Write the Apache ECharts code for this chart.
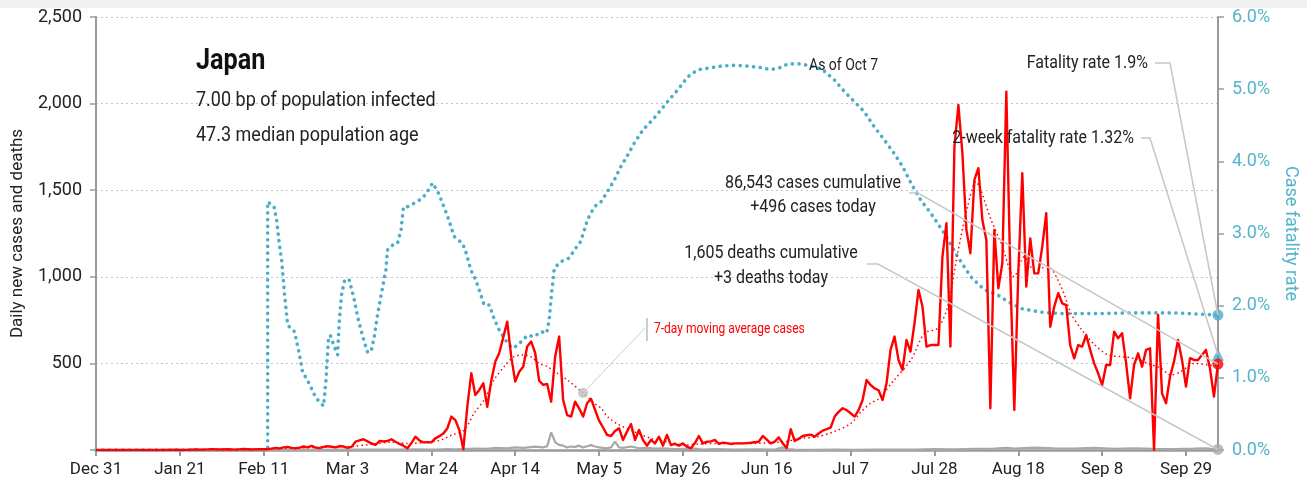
<!DOCTYPE html>
<html>
<head>
<meta charset="utf-8">
<script src="https://cdn.jsdelivr.net/npm/echarts@6.0.0/dist/echarts.min.js"></script>
<style>
  html, body { margin: 0; padding: 0; background: #fff; }
  #chart { width: 1307px; height: 491px; }
</style>
</head>
<body>
<div id="chart"></div>
<script>
// day index 0 = Dec 31, 2019
const lastDay = 281;
const monthNames = ['Jan','Feb','Mar','Apr','May','Jun','Jul','Aug','Sep','Oct','Nov','Dec'];

// [day, new cases]
const dailyCases = [
  [0,0],[5,0],[10,0],[15,1],[17,0],[20,2],[22,1],[25,3],[27,2],[29,5],[31,3],[33,4],[35,2],[37,6],[39,3],[41,5],[43,4],
  [44,8],[45,12],[46,9],[47,15],[48,18],[49,12],[50,10],[51,14],[52,20],[53,15],[54,24],[55,14],[56,11],[57,18],[58,22],
  [59,19],[60,15],[61,23],[62,20],[63,13],[64,18],[65,48],[66,55],[67,62],[68,50],[69,38],[70,29],[71,52],[72,50],[73,52],
  [74,62],[75,48],[76,35],[77,25],[78,10],[79,40],[80,77],[81,55],[82,44],[83,45],[84,44],[85,67],[86,80],[87,95],[88,125],
  [89,193],[90,173],[91,115],[92,4],[93,250],[94,443],[95,318],[96,347],[97,385],[98,250],[99,400],[100,510],[101,560],
  [102,650],[103,741],[104,539],[105,395],[106,452],[107,481],[108,597],[109,626],[110,560],[111,400],[112,376],[113,381],
  [114,279],[115,539],[116,655],[117,289],[118,202],[119,193],[120,279],[121,241],[122,193],[123,270],[124,295],[125,231],
  [126,170],[127,130],[128,87],[129,81],[130,110],[131,125],[132,58],[133,106],[134,150],[135,58],[136,116],[137,58],
  [138,25],[139,58],[140,38],[141,77],[142,25],[143,87],[144,29],[145,35],[146,25],[147,38],[148,19],[149,10],[150,40],
  [151,81],[152,38],[153,48],[154,50],[155,58],[156,35],[157,42],[158,40],[159,35],[160,38],[161,38],[162,38],[163,40],
  [164,42],[165,45],[166,48],[167,81],[168,60],[169,38],[170,48],[171,73],[172,38],[173,12],[174,120],[175,52],[176,65],
  [177,81],[178,85],[179,89],[180,77],[181,95],[182,112],[183,120],[184,129],[185,193],[186,220],[187,241],[188,230],
  [189,212],[190,193],[191,230],[192,289],[193,404],[194,375],[195,356],[196,345],[197,289],[198,385],[199,578],[200,655],
  [201,520],[202,462],[203,635],[204,568],[205,732],[206,924],[207,828],[208,597],[209,606],[210,606],[211,606],[212,1117],
  [213,1309],[214,597],[215,1752],[216,1992],[217,1713],[218,1271],[219,1136],[220,1559],[221,1627],[222,1328],[223,1213],
  [224,241],[225,1271],[226,934],[227,1078],[228,2069],[229,1020],[230,231],[231,1020],[232,1598],[233,943],[234,1222],
  [235,1020],[236,1020],[237,1174],[238,1367],[239,712],[240,828],[241,905],[242,847],[243,837],[244,606],[245,529],
  [246,606],[247,597],[248,664],[249,578],[250,500],[251,443],[252,375],[253,491],[254,491],[255,683],[256,645],[257,674],
  [258,500],[259,298],[260,491],[261,558],[262,481],[263,578],[264,587],[265,0],[266,780],[267,327],[268,270],[269,424],
  [270,510],[271,635],[272,520],[273,366],[274,530],[275,520],[276,520],[277,549],[278,578],[279,472],[280,308],[281,496]
];

// [day, 7-day moving average of cases]
const movingAvg = [
  [0,0],[20,0.5],[30,3],[40,4],[45,8],[50,12],[55,15],[60,18],[64,20],[69.7,35],[74,45],[78,38],[83,45],[86.4,58],[89,85],
  [92.2,115],[94.7,212],[97.2,289],[99.7,404],[102.2,481],[104.7,539],[106.8,549],[108.9,539],[111,500],[113.1,481],
  [115.6,443],[118.1,404],[122,329],[124.8,270],[126.5,241],[128.1,193],[130.6,150],[134.8,106],[139,67],[143.2,48],
  [147.3,29],[151.5,35],[155.7,38],[164,38],[172.4,48],[176.6,67],[180.7,77],[184.9,106],[189.1,154],[191.6,220],
  [194,270],[196,295],[199.9,404],[204.1,520],[207.5,674],[210.8,703],[213.3,828],[215.8,1136],[218.3,1405],[220.4,1550],
  [221.6,1501],[224.2,1328],[226.7,1194],[230,1001],[232.5,1117],[235,1040],[238.3,1059],[241.7,943],[244.2,789],
  [246.7,700],[250,610],[253.4,550],[256.7,539],[260.1,529],[263.4,500],[266.7,472],[269.2,433],[271.7,452],[275.1,500],
  [278.4,491],[281,485]
];

// [day, new deaths]
const dailyDeaths = [
  [0,0],[40,0],[45,1],[50,2],[55,1],[60,3],[65,2],[70,3],[75,2],[80,4],[85,3],[88,5],[90,4],[95,8],[98,6],[100,12],
  [103,10],[105,15],[107,12],[110,20],[112,15],[113,22],[114,102],[115,45],[116,30],[117,25],[118,15],[119,20],[120,18],
  [121,25],[122,15],[123,22],[124,28],[125,20],[126,15],[127,12],[128,10],[129,15],[130,48],[131,15],[132,12],[134,20],
  [136,10],[138,12],[140,8],[142,10],[145,5],[150,8],[152,3],[155,5],[160,3],[165,4],[170,2],[172,15],[173,5],[175,2],
  [180,1],[185,2],[190,1],[195,2],[200,3],[205,2],[210,5],[215,4],[220,6],[225,8],[228,12],[230,8],[235,14],[240,10],
  [245,8],[250,12],[255,6],[260,10],[265,7],[270,5],[275,8],[278,10],[281,3]
];

// [day, case fatality rate %]
const fatalityRate = [
  [0,0],[43,0],[43,3.44],[44.6,3.37],[45.3,3.16],[45.9,2.86],[46.5,2.63],[47.2,2.17],[48,1.73],[49.7,1.64],[50.7,1.39],
  [51.7,1.09],[53.4,0.92],[55.1,0.72],[57,0.61],[57.6,0.97],[58.2,1.52],[58.7,1.59],[59.7,1.43],[60.5,1.32],[60.9,1.76],
  [61.5,2.15],[62.3,2.36],[63.4,2.36],[64.7,2.08],[65.5,1.85],[66.8,1.57],[68,1.36],[68.9,1.36],[69.7,1.57],[70.5,1.87],
  [71.8,2.26],[72.6,2.49],[73,2.77],[74.3,2.84],[75.5,2.86],[76.4,3.05],[77,3.37],[78,3.37],[79.7,3.42],[81.8,3.49],
  [83,3.58],[84.3,3.70],[85.6,3.58],[86.8,3.42],[88.1,3.23],[89.7,2.96],[91.8,2.86],[92.6,2.75],[93.9,2.49],[95.1,2.36],
  [96.4,2.15],[97.2,2.01],[98.5,2.01],[99.7,1.82],[101,1.66],[103.1,1.48],[104.3,1.41],[105.6,1.45],[106.8,1.52],
  [108.1,1.59],[109.8,1.57],[111.4,1.64],[112.9,1.62],[113.5,1.80],[114.1,2.17],[114.8,2.52],[116.4,2.61],[118.5,2.66],
  [119.8,2.77],[121.4,2.89],[123.1,3.19],[124.8,3.37],[126.5,3.44],[128.1,3.58],[129.8,3.74],[131.5,3.93],[133.2,4.09],
  [134.8,4.25],[136.9,4.43],[139.8,4.60],[143.2,4.83],[145.7,4.99],[148.2,5.17],[150.7,5.27],[153.2,5.29],[156.5,5.32],
  [159.9,5.33],[163.2,5.32],[166.5,5.30],[169,5.27],[171.5,5.30],[173.2,5.35],[176.6,5.35],[179.9,5.31],[182,5.27],
  [184.9,5.13],[187.4,4.97],[189.9,4.83],[192.4,4.69],[194.9,4.48],[197.4,4.30],[199.9,4.11],[202,3.93],[204.1,3.70],
  [206.6,3.46],[209.1,3.28],[212.5,3.00],[215.8,2.68],[219.1,2.40],[222.5,2.22],[225.8,2.15],[228.3,2.06],[231.7,1.96],
  [236.7,1.91],[241.7,1.89],[250,1.89],[260,1.90],[270,1.90],[281,1.87]
];

// latest values (end markers)
const latestCfr = 1.87;
const twoWeekCfr = 1.32;
const latestCases = 496;
const latestDeaths = 3;
const maCallout = [122, 329];

const teal = '#4aaec8';
const tealText = '#55b3cc';
const red = '#ff0000';
const grey = '#a8a8a8';
const axisGrey = '#9a9a9a';
const FONT = 'Roboto, "Liberation Sans", sans-serif';

function dayLabel(d) {
  const t = new Date(Date.UTC(2019, 11, 31) + d * 864e5);
  return monthNames[t.getUTCMonth()] + ' ' + t.getUTCDate();
}

const chart = echarts.init(document.getElementById('chart'));

chart.setOption({
  animation: false,
  grid: { left: 96, right: 89, top: 17, bottom: 41 },
  xAxis: {
    type: 'value', min: 0, max: lastDay, interval: 21,
    axisLine: { lineStyle: { color: axisGrey, width: 2.5 } },
    axisTick: { length: 6, lineStyle: { color: axisGrey, width: 2 } },
    axisLabel: { formatter: v => (v % 21 === 0 ? dayLabel(v) : ''), color: '#222', fontSize: 17, fontFamily: FONT, margin: 11, showMaxLabel: false },
    splitLine: { show: false }
  },
  yAxis: [{
    type: 'value', min: 0, max: 2500, interval: 500,
    name: 'Daily new cases and deaths', nameLocation: 'middle', nameGap: 70,
    nameTextStyle: { color: '#222', fontSize: 17, fontFamily: FONT },
    axisLine: { show: true, lineStyle: { color: axisGrey, width: 2 } },
    axisTick: { show: true, length: 6, lineStyle: { color: axisGrey, width: 1.5 } },
    axisLabel: { formatter: v => (v === 0 ? '' : v.toLocaleString('en-US')), color: '#222', fontSize: 18, fontFamily: FONT, margin: 14 },
    splitLine: { lineStyle: { type: [2, 3], color: '#c4c4c4', width: 1 } }
  }, {
    type: 'value', min: 0, max: 6, interval: 1, position: 'right',
    name: 'Case fatality rate', nameLocation: 'middle', nameGap: 62, nameRotate: -90,
    nameTextStyle: { color: tealText, fontSize: 18, fontFamily: FONT },
    axisLine: { show: true, lineStyle: { color: axisGrey, width: 2 } },
    axisTick: { show: true, length: 6, lineStyle: { color: axisGrey, width: 1.5 } },
    axisLabel: { formatter: v => v.toFixed(1) + '%', color: tealText, fontSize: 18, fontFamily: FONT, margin: 14 },
    splitLine: { show: false }
  }],
  series: [
    {
      name: 'Case fatality rate', type: 'line', yAxisIndex: 1, data: fatalityRate, showSymbol: false, clip: false,
      lineStyle: { color: teal, width: 3.6, type: [0.1, 6.6], cap: 'round' }, z: 2
    },
    {
      name: 'Deaths', type: 'line', data: dailyDeaths, showSymbol: false,
      lineStyle: { color: grey, width: 2.2 }, z: 3
    },
    {
      name: '7-day average', type: 'line', data: movingAvg, showSymbol: false, smooth: 0.3,
      lineStyle: { color: red, width: 1.5, type: [1.5, 3] }, z: 4
    },
    {
      name: 'Cases', type: 'line', data: dailyCases, showSymbol: false,
      lineStyle: { color: red, width: 2.4, join: 'round' }, z: 5
    },
    { type: 'scatter', yAxisIndex: 1, data: [[lastDay, latestCfr]], symbol: 'circle', symbolSize: 11, itemStyle: { color: teal }, clip: false, z: 10 },
    { type: 'scatter', yAxisIndex: 1, data: [[lastDay, twoWeekCfr]], symbol: 'triangle', symbolSize: 12, itemStyle: { color: teal }, clip: false, z: 10 },
    { type: 'scatter', data: [[lastDay, latestCases]], symbol: 'circle', symbolSize: 11, itemStyle: { color: red }, clip: false, z: 10 },
    { type: 'scatter', data: [[lastDay, latestDeaths]], symbol: 'circle', symbolSize: 11, itemStyle: { color: '#aaaaaa' }, clip: false, z: 10 },
    { type: 'scatter', data: [maCallout], symbol: 'circle', symbolSize: 10, itemStyle: { color: '#bdbdbd' }, clip: false, z: 10 }
  ]
});

// annotation texts and leader lines
const px = (pt, yi) => chart.convertToPixel({ xAxisIndex: 0, yAxisIndex: yi }, pt);
const pCfr = px([lastDay, latestCfr], 1);
const pTwo = px([lastDay, twoWeekCfr], 1);
const pCases = px([lastDay, latestCases], 0);
const pDeaths = px([lastDay, latestDeaths], 0);
const pMa = px(maCallout, 0);

// condensed look: larger font squeezed horizontally
function txt(text, x, y, size, sx, align, color, weight) {
  return {
    type: 'text', x: x, y: y, z: 100, scaleX: sx, scaleY: 1,
    style: {
      text: text, fill: color || '#222', textAlign: align || 'left', textVerticalAlign: 'middle',
      font: (weight || 'normal') + ' ' + size + 'px ' + FONT
    }
  };
}
function leader(points, color, width) {
  return { type: 'polyline', z: 90, shape: { points: points }, style: { stroke: color || '#c8c8c8', lineWidth: width || 1.6, fill: null } };
}

chart.setOption({
  graphic: [
    { type: 'rect', shape: { x: 0, y: 0, width: 1307, height: 8 }, style: { fill: '#f1f1f1' }, z: 0 },
    txt('Japan', 196, 62, 29, 0.87, 'left', '#111', 'bold'),
    txt('7.00 bp of population infected', 196, 101, 19.5, 0.923),
    txt('47.3 median population age', 196, 136, 19.5, 0.923),
    txt('As of Oct 7', 809, 66, 16.5, 0.85),
    txt('Fatality rate 1.9%', 1148, 63, 18.5, 0.865, 'right'),
    txt('2-week fatality rate 1.32%', 1134, 138, 18.5, 0.865, 'right'),
    txt('86,543 cases cumulative', 813, 183, 18.5, 0.865, 'center'),
    txt('+496 cases today', 813, 207, 18.5, 0.865, 'center'),
    txt('1,605 deaths cumulative', 771, 253, 18.5, 0.865, 'center'),
    txt('+3 deaths today', 771, 278, 18.5, 0.865, 'center'),
    txt('7-day moving average cases', 654, 329, 14, 0.857, 'left', red),
    leader([[1155, 63], [1170, 63], pCfr]),
    leader([[1141, 138], [1150, 138], pTwo]),
    leader([[909, 193], [918, 193], pCases]),
    leader([[867, 264], [878, 264], pDeaths]),
    leader([[647, 318], [647, 341]], '#cccccc', 2),
    leader([[645, 328], pMa], '#cccccc', 1)
  ]
});
</script>
</body>
</html>
